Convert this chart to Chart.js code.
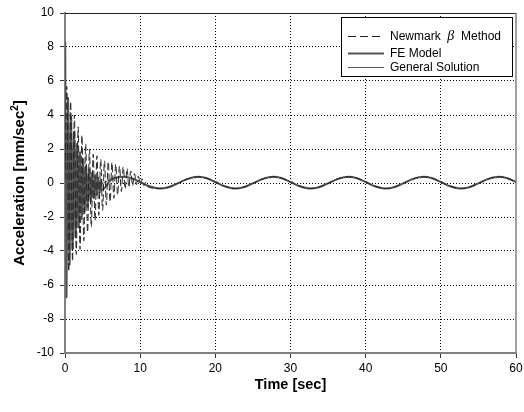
<!DOCTYPE html>
<html>
<head>
<meta charset="utf-8">
<script src="https://cdn.jsdelivr.net/npm/chart.js@4/dist/chart.umd.min.js"></script>
<style>
  html, body { margin: 0; padding: 0; background: #fff; }
  canvas { display: block; }
</style>
</head>
<body>
<canvas id="myChart" width="524" height="412"></canvas>
<script>
// steady part (read every 1.25 sec)
const slowT = [0, 1.25, 2.5, 3.75, 5, 6.25, 7.5, 8.75, 10, 11.25, 12.5, 13.75, 15, 16.25, 17.5, 18.75,
  20, 21.25, 22.5, 23.75, 25, 26.25, 27.5, 28.75, 30, 31.25, 32.5, 33.75, 35, 36.25, 37.5, 38.75,
  40, 41.25, 42.5, 43.75, 45, 46.25, 47.5, 48.75, 50, 51.25, 52.5, 53.75, 55, 56.25, 57.5, 58.75, 60];
const slowA = [0.06, -0.19, -0.32, -0.25, -0.02, 0.23, 0.36, 0.29, 0.06, -0.19, -0.32, -0.25, -0.02, 0.23, 0.36, 0.29,
  0.06, -0.19, -0.32, -0.25, -0.02, 0.23, 0.36, 0.29, 0.06, -0.19, -0.32, -0.25, -0.02, 0.23, 0.36, 0.29,
  0.06, -0.19, -0.32, -0.25, -0.02, 0.23, 0.36, 0.29, 0.06, -0.19, -0.32, -0.25, -0.02, 0.23, 0.36, 0.29, 0.06];

// Newmark beta transient (peaks and troughs)
const newmarkT = [0, 0.25, 0.5, 0.75, 1, 1.25, 1.5, 1.75, 2, 2.25, 2.5, 2.75, 3, 3.25, 3.5, 3.75,
  4, 4.25, 4.5, 4.75, 5, 5.25, 5.5, 5.75, 6, 6.25, 6.5, 6.75, 7, 7.25, 7.5, 7.75,
  8, 8.25, 8.5, 8.75, 9, 9.25, 9.5, 9.75, 10, 10.25, 10.5, 10.75, 11];
const newmarkA = [0.2, 5.6, -5.2, 4.8, -4.6, 4.0, -4.2, 3.3, -3.9, 2.8, -3.4, 2.3, -2.9, 2.0, -2.6, 1.7,
  -2.2, 1.6, -1.9, 1.4, -1.6, 1.3, -1.3, 1.25, -1.1, 1.2, -0.9, 1.1, -0.7, 1.0, -0.5, 0.95,
  -0.35, 0.85, -0.25, 0.7, -0.15, 0.55, -0.1, 0.4, -0.05, 0.25, -0.15, 0.05, -0.22];

// FE model transient
const feT = [0.03, 0.2, 0.4, 0.6, 0.8, 1, 1.2, 1.4, 1.6, 1.8, 2, 2.2, 2.4, 2.6, 2.8,
  3, 3.2, 3.4, 3.6, 3.8, 4, 4.2, 4.4, 4.6, 4.8, 5];
const feA = [8.3, -6.7, 5.0, -4.8, 3.9, -3.9, 3.0, -3.2, 2.3, -2.6, 1.8, -2.1, 1.4, -1.7, 1.0,
  -1.4, 0.8, -1.1, 0.6, -0.9, 0.45, -0.7, 0.3, -0.55, 0.2, -0.4];

const xTicks = [0, 10, 20, 30, 40, 50, 60];
const yTicks = [-10, -8, -6, -4, -2, 0, 2, 4, 6, 8, 10];

const FONT = "'Liberation Sans', Arial, sans-serif";

function buildSeries(tArr, aArr) {
  var pts = tArr.map((t, i) => ({x: t, y: aArr[i]}));
  var last = tArr[tArr.length - 1];
  slowT.forEach((t, i) => { if (t > last + 0.5) pts.push({x: t, y: slowA[i]}); });
  return pts;
}

const framePlugin = {
  id: 'frame',
  beforeDatasetsDraw(chart) {
    var c = chart.ctx, a = chart.chartArea;
    c.save();
    c.strokeStyle = '#222';
    c.lineWidth = 1;
    c.beginPath();
    c.moveTo(a.left, a.top + 0.5);
    c.lineTo(a.right, a.top + 0.5);
    c.stroke();
    c.strokeStyle = '#808080';
    c.lineWidth = 1.5;
    c.beginPath();
    c.moveTo(a.right, a.top);
    c.lineTo(a.right, a.bottom);
    c.stroke();
    c.restore();
  },
  afterDraw(chart) {
    var c = chart.ctx, a = chart.chartArea;
    c.save();
    // axis titles
    c.fillStyle = '#000';
    c.font = 'bold 14.5px ' + FONT;
    c.textAlign = 'center';
    c.textBaseline = 'middle';
    c.fillText('Time [sec]', (a.left + a.right) / 2, 385);

    c.translate(20, (a.top + a.bottom) / 2);
    c.rotate(-Math.PI / 2);
    c.font = 'bold 15px ' + FONT;
    var p1 = 'Acceleration [mm/sec', p3 = ']';
    var w1 = c.measureText(p1).width, w3 = c.measureText(p3).width;
    c.font = 'bold 10px ' + FONT;
    var w2 = c.measureText('2').width;
    var x0 = -(w1 + w2 + w3) / 2;
    c.textAlign = 'left';
    c.font = 'bold 15px ' + FONT;
    c.fillText(p1, x0, 0);
    c.fillText(p3, x0 + w1 + w2, 0);
    c.font = 'bold 10px ' + FONT;
    c.fillText('2', x0 + w1, -5);
    c.restore();

    // legend box
    c.save();
    c.fillStyle = '#fff';
    c.fillRect(341, 17, 172, 60);
    c.strokeStyle = '#000';
    c.lineWidth = 1;
    c.strokeRect(341.5, 17.5, 171, 59);
    var rows = [
      {y: 36, dash: [8, 4], w: 1, col: '#222'},
      {y: 53, dash: [], w: 2, col: '#555'},
      {y: 67, dash: [], w: 1, col: '#555'}
    ];
    rows.forEach(r => {
      c.beginPath();
      c.setLineDash(r.dash);
      c.lineWidth = r.w;
      c.strokeStyle = r.col;
      c.moveTo(348, r.y + 0.5);
      c.lineTo(384, r.y + 0.5);
      c.stroke();
    });
    c.setLineDash([]);
    c.fillStyle = '#000';
    c.textAlign = 'left';
    c.textBaseline = 'middle';
    c.font = '12px ' + FONT;
    var x = 390;
    c.fillText('Newmark ', x, 37);
    x += c.measureText('Newmark  ').width;
    c.font = "italic 14px 'Liberation Serif', serif";
    c.fillText('\u03B2', x, 36);
    x += c.measureText('\u03B2').width;
    c.font = '12px ' + FONT;
    x += c.measureText('  ').width;
    c.fillText('Method', x, 37);
    c.fillText('FE Model', 390, 54);
    c.fillText('General Solution', 390, 68);
    c.restore();
  }
};

var ctx = document.getElementById('myChart').getContext('2d');

var chart = new Chart(ctx, {
  type: 'line',
  data: {
    datasets: [{
      label: 'Newmark \u03B2 Method',
      data: buildSeries(newmarkT, newmarkA),
      borderColor: '#222',
      borderWidth: 1,
      borderDash: [7, 3]
    }, {
      label: 'FE Model',
      data: buildSeries(feT, feA),
      borderColor: '#555',
      borderWidth: 2
    }, {
      label: 'General Solution',
      data: slowT.map((t, i) => ({x: t, y: slowA[i]})),
      borderColor: '#555',
      borderWidth: 1
    }]
  },
  options: {
    responsive: false,
    animation: false,
    parsing: false,
    elements: {
      point: { radius: 0 },
      line: { tension: 0.4, fill: false }
    },
    layout: { padding: { top: 13, right: 8, left: 0, bottom: 0 } },
    plugins: {
      legend: { display: false },
      tooltip: { enabled: false }
    },
    scales: {
      x: {
        type: 'linear',
        min: 0,
        max: 60,
        afterBuildTicks: s => { s.ticks = xTicks.map(v => ({value: v})); },
        afterFit: s => { s.height = 59; s.paddingLeft = 0; s.paddingRight = 0; },
        ticks: { color: '#000', font: { family: FONT, size: 12 }, padding: 3, maxRotation: 0 },
        grid: {
          color: c => (c.tick && (c.tick.value === 0 || c.tick.value === 60)) ? 'rgba(0,0,0,0)' : '#000',
          lineWidth: 1,
          tickLength: 5,
          tickColor: '#333'
        },
        border: { color: '#808080', width: 2, dash: [1, 2] }
      },
      y: {
        min: -10,
        max: 10,
        afterBuildTicks: s => { s.ticks = yTicks.map(v => ({value: v})); },
        afterFit: s => { s.width = 65; s.paddingTop = 0; s.paddingBottom = 0; },
        ticks: { color: '#000', font: { family: FONT, size: 12 }, padding: 6 },
        grid: {
          color: c => (c.tick && Math.abs(c.tick.value) === 10) ? 'rgba(0,0,0,0)' : '#000',
          lineWidth: 1,
          tickLength: 5,
          tickColor: '#333'
        },
        border: { color: '#808080', width: 2, dash: [1, 2] }
      }
    }
  },
  plugins: [framePlugin]
});
</script>
</body>
</html>
